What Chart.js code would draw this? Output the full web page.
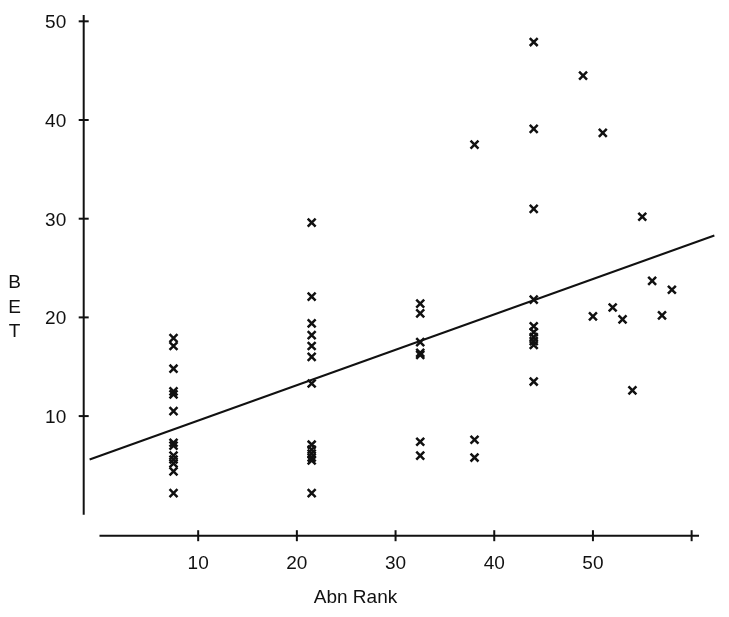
<!DOCTYPE html>
<html>
<head>
<meta charset="utf-8">
<script src="https://cdn.jsdelivr.net/npm/chart.js@4"></script>
<style>
  html, body { margin: 0; padding: 0; background: #fff; }
  canvas { display: block; }
</style>
</head>
<body>
<canvas id="chart" width="729" height="617"></canvas>
<script>
// ── Data ──
const rankX = [
  7.5, 7.5, 7.5, 7.5, 7.5, 7.5, 7.5, 7.5, 7.5, 7.5, 7.5, 7.5, 7.5,
  21.5, 21.5, 21.5, 21.5, 21.5, 21.5, 21.5, 21.5, 21.5, 21.5, 21.5, 21.5, 21.5,
  32.5, 32.5, 32.5, 32.5, 32.5, 32.5, 32.5,
  38, 38, 38,
  44, 44, 44, 44, 44, 44, 44, 44, 44, 44,
  49, 51, 55, 56, 58, 52, 50, 53, 57, 54
];
const betY = [
  17.9, 17.1, 14.8, 12.5, 12.2, 10.5, 7.3, 7.0, 6.0, 5.6, 5.2, 4.4, 2.2,
  29.6, 22.1, 19.4, 18.2, 17.1, 16.0, 13.3, 7.1, 6.6, 6.2, 5.8, 5.5, 2.2,
  21.4, 20.4, 17.5, 16.4, 16.2, 7.4, 6.0,
  37.5, 7.6, 5.8,
  47.9, 39.1, 31.0, 21.8, 19.1, 18.5, 18.0, 17.6, 17.2, 13.5,
  44.5, 38.7, 30.2, 23.7, 22.8, 21.0, 20.1, 19.8, 20.2, 12.6
];

// fitted line, two end points
const fitX = [-1, 62.3];
const fitY = [5.6, 28.3];

const xTicks = [10, 20, 30, 40, 50, 60];
const xTickLabels = ['10', '20', '30', '40', '50', ''];
const yTicks = [10, 20, 30, 40, 50];
const yTickLabels = ['10', '20', '30', '40', '50'];

const INK = '#111';
const FONT = "'Liberation Sans', Arial, sans-serif";

// ── Detached axes drawn through the chart's own scales ──
const detachedAxes = {
  id: 'detachedAxes',
  beforeDatasetsDraw(chart) {
    const { ctx, chartArea, scales: { x, y } } = chart;
    ctx.save();
    ctx.strokeStyle = INK;
    ctx.fillStyle = INK;
    ctx.lineWidth = 2;

    // y axis: from the top of the area down to 0
    const ax = chartArea.left;
    ctx.beginPath();
    ctx.moveTo(ax, chartArea.top);
    ctx.lineTo(ax, y.getPixelForValue(0));
    ctx.stroke();

    ctx.font = `19px ${FONT}`;
    ctx.textAlign = 'right';
    ctx.textBaseline = 'alphabetic';
    yTicks.forEach((v, i) => {
      const py = y.getPixelForValue(v);
      ctx.beginPath();
      ctx.moveTo(ax - 5, py);
      ctx.lineTo(ax + 5, py);
      ctx.stroke();
      ctx.fillText(yTickLabels[i], ax - 17.5, py + 7);
    });

    // x axis: from 0 to just past the last tick
    const ay = chartArea.bottom;
    ctx.beginPath();
    ctx.moveTo(x.getPixelForValue(0), ay);
    ctx.lineTo(x.getPixelForValue(60.75), ay);
    ctx.stroke();

    ctx.textAlign = 'center';
    xTicks.forEach((v, i) => {
      const px = x.getPixelForValue(v);
      ctx.beginPath();
      ctx.moveTo(px, ay - 5.5);
      ctx.lineTo(px, ay + 5.5);
      ctx.stroke();
      if (xTickLabels[i]) ctx.fillText(xTickLabels[i], px, ay + 33);
    });

    // titles
    ctx.font = `19px ${FONT}`;
    ctx.fillText('Abn Rank', 355.5, 603);
    ['B', 'E', 'T'].forEach((ch, i) => {
      ctx.fillText(ch, 14.5, 288 + i * 24.5);
    });
    ctx.restore();
  }
};

new Chart(document.getElementById('chart'), {
  data: {
    datasets: [
      {
        type: 'scatter',
        data: rankX.map((v, i) => ({ x: v, y: betY[i] })),
        pointStyle: 'crossRot',
        pointRadius: 5.6,
        pointBorderWidth: 2.5,
        borderColor: INK,
        backgroundColor: INK,
      },
      {
        type: 'line',
        data: fitX.map((v, i) => ({ x: v, y: fitY[i] })),
        borderColor: INK,
        borderWidth: 2,
        pointRadius: 0,
        fill: false,
        clip: false,
      }
    ]
  },
  options: {
    responsive: false,
    animation: false,
    devicePixelRatio: 1,
    layout: { padding: { left: 83.7, right: 12.7, top: 15, bottom: 81.3 } },
    plugins: {
      legend: { display: false },
      tooltip: { enabled: false },
    },
    scales: {
      x: { type: 'linear', min: -1.6, max: 62.5, display: false },
      y: { type: 'linear', min: -2.12, max: 50.64, display: false },
    }
  },
  plugins: [detachedAxes]
});
</script>
</body>
</html>
